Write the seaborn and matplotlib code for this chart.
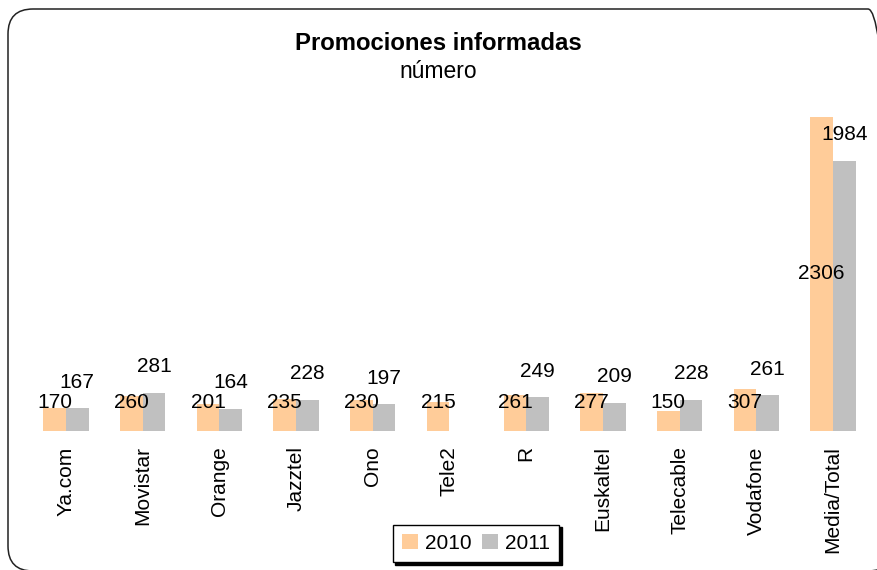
import numpy as np
import pandas as pd
import seaborn as sns
import matplotlib.pyplot as plt
from matplotlib.patches import FancyBboxPatch
from matplotlib.transforms import IdentityTransform

operators = ["Ya.com", "Movistar", "Orange", "Jazztel", "Ono", "Tele2", "R",
             "Euskaltel", "Telecable", "Vodafone", "Media/Total"]
promos_2010 = [170, 260, 201, 235, 230, 215, 261, 277, 150, 307, 2306]
promos_2011 = [167, 281, 164, 228, 197, np.nan, 249, 209, 228, 261, 1984]
years = ["2010", "2011"]
colors = ["#FFCC99", "#C0C0C0"]

df = pd.DataFrame({
    "operador": operators * 2,
    "anio": [years[0]] * len(operators) + [years[1]] * len(operators),
    "valor": promos_2010 + promos_2011,
})

sns.set_style("white")
plt.rcParams["font.family"] = ["Liberation Sans", "DejaVu Sans"]
plt.rcParams["text.color"] = "black"
plt.rcParams["xtick.color"] = "black"

W, H = 877, 570
fig = plt.figure(figsize=(W / 100, H / 100), dpi=100)
ax = fig.add_axes([27.6 / W, (H - 431) / H, 843.8 / W, 331 / H])

sns.barplot(data=df, x="operador", y="valor", hue="anio", palette=colors,
            width=0.59, gap=0, saturation=1, ax=ax, legend=True, errorbar=None,
            edgecolor="none", linewidth=0)

ax.set_ylim(0, 331 / 0.13617)
ax.set_xlim(-0.5, len(operators) - 0.5)
ax.set_xlabel("")
ax.set_ylabel("")
ax.set_yticks([])
sns.despine(ax=ax, left=True, bottom=True)
ax.tick_params(axis="x", length=0, pad=11, labelsize=15, labelrotation=90,
               labelcolor="black")

# data labels: 2010 centred low on the bar, 2011 above the bar
for bar in ax.containers[0]:
    h = bar.get_height()
    if np.isnan(h) or h == 0:
        continue
    ax.text(bar.get_x() + bar.get_width() / 2, max(h / 2, 206), f"{h:.0f}",
            ha="center", va="center", fontsize=15, color="black")
for bar in ax.containers[1]:
    h = bar.get_height()
    if np.isnan(h) or h == 0:
        continue
    ax.annotate(f"{h:.0f}", (bar.get_x() + bar.get_width() / 2, h),
                xytext=(0, 18.7), textcoords="offset points",
                ha="center", va="center", fontsize=15, color="black")

handles, labels = ax.get_legend_handles_labels()
ax.get_legend().remove()
leg = fig.legend(handles, labels, loc="center",
                 bbox_to_anchor=(476 / W, 1 - 543.5 / H), ncol=2,
                 fontsize=15, frameon=True, fancybox=False,
                 handlelength=0.75, handleheight=0.75, handletextpad=0.35,
                 columnspacing=0.5, borderpad=0.45,
                 shadow={"facecolor": "black", "edgecolor": "black", "alpha": 1})
leg.get_frame().set_edgecolor("black")
leg.get_frame().set_linewidth(1.0)
for t in leg.get_texts():
    t.set_color("black")

fig.text(0.5, 1 - 44 / H, "Promociones informadas", ha="center", va="center",
         fontsize=17.2, fontweight="bold", color="black")
fig.text(0.5, 1 - 72 / H, "número", ha="center", va="center", fontsize=16.5,
         color="black")

# rounded chart border, in pixels
border = FancyBboxPatch((8, -1), 885, H - 9 + 1,
                        boxstyle="round,pad=0,rounding_size=25",
                        transform=IdentityTransform(), facecolor="none",
                        edgecolor="#222222", linewidth=1.1)
fig.add_artist(border)

fig.savefig("out.png", dpi=100)
